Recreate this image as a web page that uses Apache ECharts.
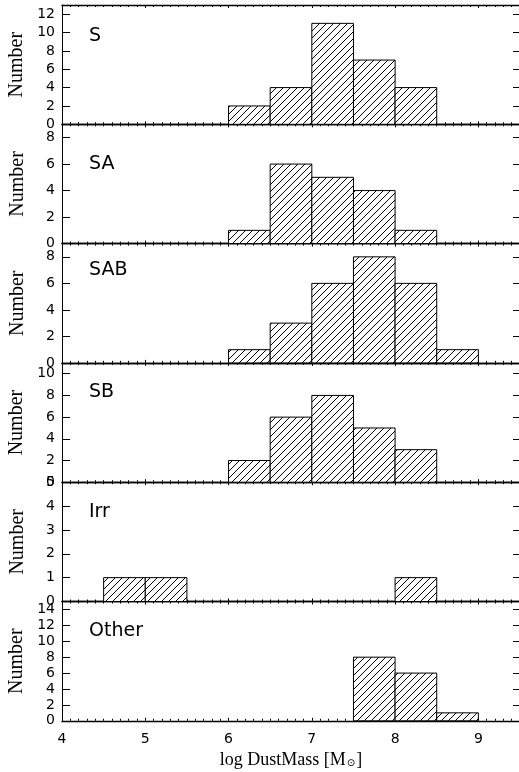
<!DOCTYPE html>
<html>
<head>
<meta charset="utf-8">
<script src="https://cdn.jsdelivr.net/npm/echarts@6/dist/echarts.min.js"></script>
<style>
html,body{margin:0;padding:0;background:#fff;}
#chart{width:519px;height:772px;}
</style>
</head>
<body>
<div id="chart"></div>
<script>
// ---- data ----
const binLo = [4.0, 4.5, 5.0, 5.5, 6.0, 6.5, 7.0, 7.5, 8.0, 8.5, 9.0];
const binWidth = 0.5;
const panelNames = ['S', 'SA', 'SAB', 'SB', 'Irr', 'Other'];
const countsS     = [0, 0, 0, 0, 2, 4, 11, 7, 4, 0, 0];
const countsSA    = [0, 0, 0, 0, 1, 6, 5, 4, 1, 0, 0];
const countsSAB   = [0, 0, 0, 0, 1, 3, 6, 8, 6, 1, 0];
const countsSB    = [0, 0, 0, 0, 2, 6, 8, 5, 3, 0, 0];
const countsIrr   = [0, 1, 1, 0, 0, 0, 0, 0, 1, 0, 0];
const countsOther = [0, 0, 0, 0, 0, 0, 0, 8, 6, 1, 0];
const yMax = [13, 9, 9, 11, 5, 15];
const yStep = [2, 2, 2, 2, 1, 2];
const xMin = 4, xMax = 9.5, xStep = 1;
const xTitle = 'log DustMass [M';
const yTitle = 'Number';

const allCounts = [countsS, countsSA, countsSAB, countsSB, countsIrr, countsOther];

// ---- layout ----
const tops = [5, 124.3, 243.6, 362.9, 482.2, 601.5];
const panelH = 119.3;
const labelTops = [22, 150, 256, 378, 498, 617];

// hatch pattern
const pc = document.createElement('canvas');
const ps = 7;
pc.width = ps; pc.height = ps;
const ctx = pc.getContext('2d');
ctx.fillStyle = '#fff';
ctx.fillRect(0, 0, ps, ps);
ctx.strokeStyle = '#000';
ctx.lineWidth = 1;
ctx.beginPath();
ctx.moveTo(-1, ps + 1); ctx.lineTo(ps + 1, -1);
ctx.moveTo(-1, 1); ctx.lineTo(1, -1);
ctx.moveTo(ps - 1, ps + 1); ctx.lineTo(ps + 1, ps - 1);
ctx.stroke();
const hatch = { image: pc, repeat: 'repeat' };

const chart = echarts.init(document.getElementById('chart'), null, { renderer: 'canvas' });

const grids = [], xAxes = [], yAxes = [], series = [], titles = [];
const tickFont = 'DejaVu Sans';

panelNames.forEach((name, i) => {
  grids.push({ left: 62, width: 458, top: tops[i], height: panelH, containLabel: false, outerBoundsMode: 'none' });
  const isLast = i === panelNames.length - 1;
  // bottom x axis
  xAxes.push({
    type: 'value', gridIndex: i, position: 'bottom', min: xMin, max: xMax, interval: xStep,
    axisLine: { show: true, onZero: false, lineStyle: { color: '#000', width: 1.4 } },
    axisTick: { show: true, inside: true, length: 3, lineStyle: { color: '#000', width: 1 } },
    minorTick: { show: true, splitNumber: 10, length: 2, lineStyle: { color: '#000', width: 1 } },
    splitLine: { show: false },
    axisLabel: isLast ? { show: true, margin: 12, color: '#000', fontSize: 14, fontFamily: tickFont,
      formatter: v => (Number.isInteger(v) ? String(v) : '') } : { show: false },
    name: isLast ? '{a|' + xTitle + '}{s|\u2299}{a|]}' : '',
    nameLocation: 'middle', nameGap: 30,
    nameTextStyle: { rich: {
      a: { fontFamily: 'Liberation Serif', fontSize: 18, color: '#000' },
      s: { fontFamily: 'DejaVu Sans', fontSize: 10, color: '#000', padding: [8, 1, 0, 1] }
    } }
  });
  // top x axis
  xAxes.push({
    type: 'value', gridIndex: i, position: 'top', min: xMin, max: xMax, interval: xStep,
    axisLine: { show: true, onZero: false, lineStyle: { color: '#000', width: 1.4 } },
    axisTick: { show: true, inside: true, length: 3, lineStyle: { color: '#000', width: 1 } },
    minorTick: { show: true, splitNumber: 10, length: 2, lineStyle: { color: '#000', width: 1 } },
    splitLine: { show: false },
    axisLabel: { show: false }
  });
  // left y axis
  const step = yStep[i];
  yAxes.push({
    type: 'value', gridIndex: i, position: 'left', min: 0, max: yMax[i], interval: step,
    axisLine: { show: true, onZero: false, lineStyle: { color: '#000', width: 1 } },
    axisTick: { show: true, inside: true, length: 8, lineStyle: { color: '#000', width: 1 } },
    splitLine: { show: false },
    axisLabel: { show: true, margin: 7, color: '#000', fontSize: 14, fontFamily: tickFont,
      formatter: v => (Math.abs(v / step - Math.round(v / step)) < 1e-6 ? String(v) : '') },
    name: yTitle, nameLocation: 'middle', nameGap: 34, nameRotate: 90,
    nameTextStyle: { fontFamily: 'Liberation Serif', fontSize: 20, color: '#000' }
  });
  // right y axis
  yAxes.push({
    type: 'value', gridIndex: i, position: 'right', min: 0, max: yMax[i], interval: step,
    axisLine: { show: true, onZero: false, lineStyle: { color: '#000', width: 1 } },
    axisTick: { show: true, inside: true, length: 7, lineStyle: { color: '#000', width: 1 } },
    splitLine: { show: false },
    axisLabel: { show: false }
  });

  const data = binLo.map((lo, k) => [lo, lo + binWidth, allCounts[i][k]]);
  series.push({
    type: 'custom', xAxisIndex: 2 * i, yAxisIndex: 2 * i, clip: false,
    data: data,
    encode: { x: [0, 1], y: 2 },
    renderItem: function (params, api) {
      const lo = api.value(0), hi = api.value(1), v = api.value(2);
      if (!v) return null;
      const p1 = api.coord([lo, v]);
      const p2 = api.coord([hi, 0]);
      return {
        type: 'rect',
        shape: { x: p1[0], y: p1[1], width: p2[0] - p1[0], height: p2[1] - p1[1] },
        style: { fill: hatch, stroke: '#000', lineWidth: 1 }
      };
    },
    z: 1
  });

  titles.push({
    text: name, left: 84, top: labelTops[i],
    textStyle: { fontFamily: 'DejaVu Sans', fontSize: 19, fontWeight: 'normal', color: '#000' }
  });
});

chart.setOption({
  animation: false,
  backgroundColor: '#fff',
  title: titles,
  grid: grids,
  xAxis: xAxes,
  yAxis: yAxes,
  series: series
});
</script>
</body>
</html>
